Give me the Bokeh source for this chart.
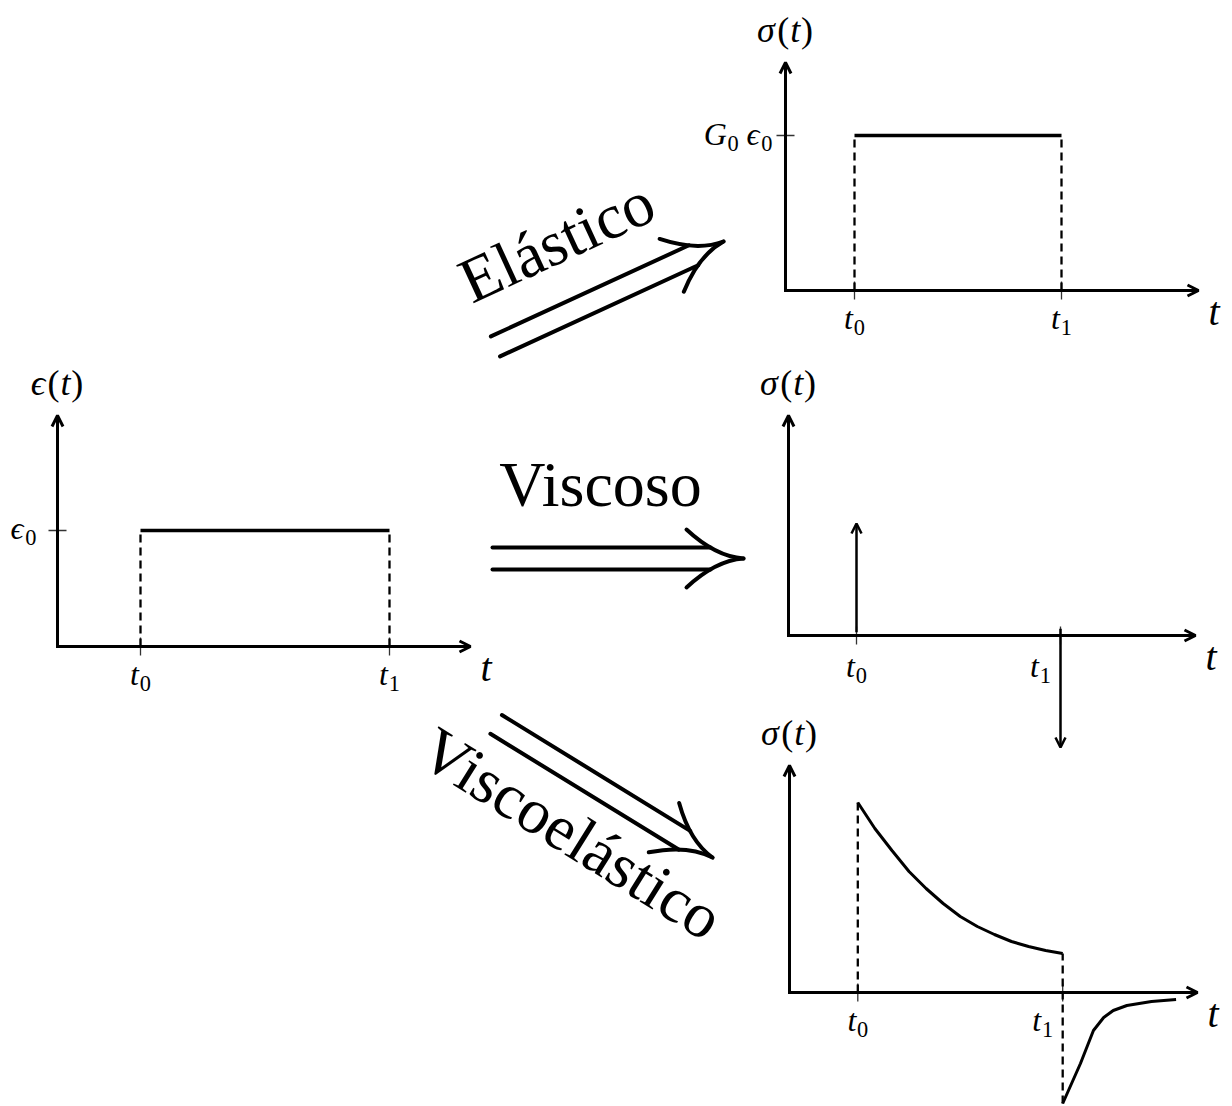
import math
from bokeh.plotting import figure
from bokeh.models import Range1d, Arrow, OpenHead
from bokeh.core.properties import value
from bokeh.embed import file_html
from bokeh.resources import INLINE

# ---------------------------------------------------------------- data
# loading times (same time units in every panel)
t_on = 1.0
t_off = 4.0
tick_times = [t_on, t_off]

# applied strain step
strain_level = 1.0

# elastic response: stress follows the strain step
elastic_level = 1.0

# viscous response: stress impulses at loading / unloading
viscous_impulses = [1.0, -1.0]

# viscoelastic response: relaxation while loaded
relax_t = [1.0, 1.25, 1.5, 1.75, 2.0, 2.25, 2.5, 2.75, 3.0, 3.25, 3.5, 3.75, 4.0]
relax_s = [1.90, 1.64, 1.42, 1.21, 1.04, 0.89, 0.76, 0.66, 0.58, 0.51, 0.46, 0.42, 0.39]

# viscoelastic response: recovery after unloading
recov_t = [4.0, 4.26, 4.45, 4.6, 4.74, 4.94, 5.3, 5.66]
recov_s = [-1.11, -0.71, -0.38, -0.25, -0.18, -0.13, -0.09, -0.07]

arrow_words = ["Elástico", "Viscoso", "Viscoelástico"]

# ---------------------------------------------------------------- canvas
W, H = 1232, 1106
FONT = "Liberation Serif"
INK = "black"
BASE_SHIFT = 0.33   # em offset so that y marks the alphabetic baseline

p = figure(width=W, height=H, x_range=Range1d(0, W), y_range=Range1d(0, H),
           output_backend="svg", toolbar_location=None, min_border=0)
p.axis.visible = False
p.grid.visible = False
p.outline_line_color = None
p.background_fill_color = "white"
p.border_fill_color = "white"


def cy(y):
    """canvas row (from the top) -> plot y"""
    return H - y


def put_text(x, y, s, size, italic=False, angle_deg=0.0, align="left"):
    # x, y: baseline anchor in canvas pixels (y from the top)
    a = math.radians(angle_deg)
    ux, uy = -math.sin(a), -math.cos(a)          # "up" direction on screen
    k = BASE_SHIFT * size
    p.text(x=[x + k * ux], y=[cy(y + k * uy)], text=[s], angle=[a],
           text_font=value(FONT), text_font_size=f"{size:.1f}px",
           text_font_style="italic" if italic else "normal",
           text_color=INK, text_align=align, text_baseline="alphabetic")


class Panel:
    def __init__(self, ox, oy, sx, sy, xlen, ytop):
        self.ox, self.oy, self.sx, self.sy = ox, oy, sx, sy
        self.xlen, self.ytop = xlen, ytop

    def X(self, t):
        return self.ox + self.sx * t

    def Yc(self, s):
        return self.oy - self.sy * s

    def Y(self, s):
        return cy(self.Yc(s))


# ------------------------------------------------------------ math labels
WIDTHS = {"t": 0.30, "σ": 0.56, "ϵ": 0.46, "G": 0.74, "(": 0.36, ")": 0.36,
          "0": 0.5, "1": 0.5, " ": 0.25}


def math_label(pieces, x, y, size, align="center"):
    # pieces: (text, italic?, scale, lowered-by in em)
    total = sum(WIDTHS.get(s, 0.5) * size * sc for s, it, sc, dy in pieces)
    if align == "center":
        x0 = x - total / 2
    elif align == "right":
        x0 = x - total
    else:
        x0 = x
    for s, it, sc, dy in pieces:
        put_text(x0, y + dy * size, s, size * sc, italic=it)
        x0 += WIDTHS.get(s, 0.5) * size * sc


def func_label(sym):
    return [(sym, True, 1, 0), ("(", False, 1, 0), ("t", True, 1, 0), (")", False, 1, 0)]


def sub_label(sym, idx):
    return [(sym, True, 1, 0), (idx, False, 0.7, 0.2)]


AX = 36
TK = 32


def draw_axes(pn, ylab, t1_shift=0, tick_drop=38):
    # axes with open arrow heads
    p.add_layout(Arrow(end=OpenHead(size=11, line_width=3, line_color=INK),
                       x_start=pn.ox - 1.5, y_start=cy(pn.oy), x_end=pn.ox + pn.xlen, y_end=cy(pn.oy),
                       line_width=3, line_color=INK))
    p.add_layout(Arrow(end=OpenHead(size=11, line_width=3, line_color=INK),
                       x_start=pn.ox, y_start=cy(pn.oy), x_end=pn.ox, y_end=cy(pn.oy - pn.ytop),
                       line_width=3, line_color=INK))
    # tick marks on the time axis
    for t in tick_times:
        p.segment(x0=[pn.X(t)], y0=[cy(pn.oy - 9)], x1=[pn.X(t)], y1=[cy(pn.oy + 9)],
                  line_width=1.3, line_color="#333333")
    # labels
    math_label(func_label(ylab), pn.ox, pn.oy - pn.ytop - 21, AX)
    math_label([("t", True, 1, 0)], pn.ox + pn.xlen + 16, pn.oy + 34, 40)
    math_label(sub_label("t", "0"), pn.X(t_on), pn.oy + tick_drop, TK)
    math_label(sub_label("t", "1"), pn.X(t_off) + t1_shift, pn.oy + tick_drop, TK)


def ytick(pn, level, pieces, gap, base):
    yc = pn.Yc(level)
    p.segment(x0=[pn.ox - 9], y0=[cy(yc)], x1=[pn.ox + 9], y1=[cy(yc)],
              line_width=1.3, line_color="#333333")
    math_label(pieces, pn.ox - gap, yc + base, TK, align="right")


def dashed(pn, t, s0, s1):
    p.line([pn.X(t), pn.X(t)], [pn.Y(s0), pn.Y(s1)], line_width=2.3,
           line_color=INK, line_dash="8 5")


def step(pn, level):
    dashed(pn, t_on, 0, level)
    dashed(pn, t_off, 0, level)
    p.line([pn.X(t_on), pn.X(t_off)], [pn.Y(level), pn.Y(level)],
           line_width=3.5, line_color=INK)


# ------------------------------------------------------------- panels
strain = Panel(ox=57, oy=646, sx=83, sy=116, xlen=413, ytop=231)
elastic = Panel(ox=785, oy=290, sx=69, sy=155, xlen=413, ytop=228)
viscous = Panel(ox=788, oy=635, sx=68, sy=112, xlen=407, ytop=220)
visco_el = Panel(ox=789, oy=992, sx=68.3, sy=100, xlen=408, ytop=227)

# input strain
draw_axes(strain, "ϵ")
ytick(strain, strain_level, sub_label("ϵ", "0"), 21, 8)
step(strain, strain_level)

# elastic
draw_axes(elastic, "σ")
ytick(elastic, elastic_level,
      [("G", True, 1, 0), ("0", False, 0.7, 0.2), (" ", False, 1, 0),
       ("ϵ", True, 1, 0), ("0", False, 0.7, 0.2)], 13, 9)
step(elastic, elastic_level)

# viscous
draw_axes(viscous, "σ", t1_shift=-20, tick_drop=41)
for t, s in zip(tick_times, viscous_impulses):
    p.add_layout(Arrow(end=OpenHead(size=10, line_width=2.5, line_color=INK),
                       x_start=viscous.X(t), y_start=viscous.Y(0.03 if s > 0 else 0.06),
                       x_end=viscous.X(t), y_end=viscous.Y(s),
                       line_width=2.5, line_color=INK))

# viscoelastic
draw_axes(visco_el, "σ", t1_shift=-20)
dashed(visco_el, t_on, 0, relax_s[0])
dashed(visco_el, t_off, recov_s[0], relax_s[-1])
p.line([visco_el.X(t) for t in relax_t], [visco_el.Y(s) for s in relax_s],
       line_width=3, line_color=INK, line_join="round")
p.line([visco_el.X(t) for t in recov_t], [visco_el.Y(s) for s in recov_s],
       line_width=3, line_color=INK, line_join="round")


# --------------------------------------------------- double arrows + words
def double_arrow(tip_x, tip_y, ang_deg, length, gap=11):
    a = math.radians(ang_deg)
    d = (math.cos(a), -math.sin(a))
    n = (-math.sin(a), -math.cos(a))

    def pt(u, v):
        return tip_x + u * d[0] + v * n[0], cy(tip_y + u * d[1] + v * n[1])

    for sgn in (1, -1):
        x0, y0 = pt(-length, sgn * gap)
        x1, y1 = pt(-33, sgn * gap)
        p.line([x0, x1], [y0, y1], line_width=4, line_color=INK, line_cap="round")
        sx, sy = pt(-57, sgn * 29)
        qx, qy = pt(-28, sgn * 2)
        ex, ey = pt(0, 0)
        p.quadratic(x0=[sx], y0=[sy], x1=[ex], y1=[ey], cx=[qx], cy=[qy],
                    line_width=4, line_color=INK, line_cap="round")


double_arrow(723, 241, 24.7, 251)
double_arrow(743, 558, 0, 251)
double_arrow(712, 857, -31.6, 254)

word_pos = [(565, 260, 24.7), (600, 505, 0), (560, 851, -32)]
for word, (wx, wy, ang) in zip(arrow_words, word_pos):
    put_text(wx, wy, word, 64, angle_deg=ang, align="center")

open("out.html", "w").write(file_html(p, INLINE))
